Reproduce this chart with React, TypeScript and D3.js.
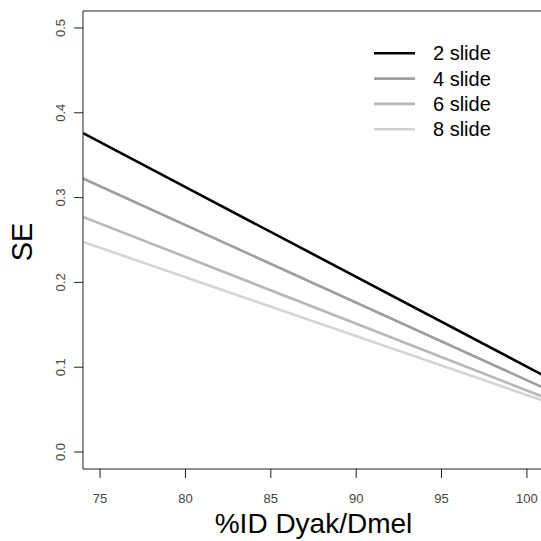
import React from "react";
import * as d3 from "d3";

const xValues = [74, 101];
const se2 = [0.376, 0.09];
const se4 = [0.3225, 0.0755];
const se6 = [0.2773, 0.0647];
const se8 = [0.2478, 0.0602];
const seriesNames = ["2 slide", "4 slide", "6 slide", "8 slide"];
const seriesColors = ["#000000", "#9e9e9e", "#b8b8b8", "#d4d4d4"];
const xTicks = [75, 80, 85, 90, 95, 100];
const yTicks = [0, 0.1, 0.2, 0.3, 0.4, 0.5];

const W = 541;
const H = 541;
const left = 83;
const right = 544;
const top = 11;
const bottom = 469;
const font = "'Liberation Sans', Arial, sans-serif";

export default function App() {
  React.useEffect(() => {
    document.body.style.margin = "0";
  }, []);
  const x = d3.scaleLinear().domain([74, 101]).range([left, right]);
  const y = d3.scaleLinear().domain([-0.02, 0.52]).range([bottom, top]);
  const series = [se2, se4, se6, se8];
  const line = d3
    .line<number>()
    .x((_, i) => x(xValues[i]))
    .y((d) => y(d));
  return (
    <svg width={W} height={H} style={{ display: "block", position: "absolute", left: 0, top: 0, background: "#fff" }}>
      <defs>
        <clipPath id="plot">
          <rect x={left} y={top} width={right - left} height={bottom - top} />
        </clipPath>
      </defs>
      <g clipPath="url(#plot)">
        {series.map((s, k) => (
          <path key={k} d={line(s) || ""} fill="none" stroke={seriesColors[k]} strokeWidth={2.6} />
        ))}
      </g>
      <rect x={left} y={top} width={right - left} height={bottom - top} fill="none" stroke="#222" strokeWidth={1} />
      {xTicks.map((t) => (
        <g key={t}>
          <line x1={x(t)} x2={x(t)} y1={bottom} y2={bottom + 9} stroke="#222" />
          <text x={x(t)} y={503} textAnchor="middle" fontFamily={font} fontSize={13} fill="#444">
            {t}
          </text>
        </g>
      ))}
      {yTicks.map((t) => (
        <g key={t}>
          <line x1={left - 9} x2={left} y1={y(t)} y2={y(t)} stroke="#222" />
          <text
            transform={`translate(65,${y(t)}) rotate(-90)`}
            textAnchor="middle"
            fontFamily={font}
            fontSize={13}
            fill="#444"
          >
            {t.toFixed(1)}
          </text>
        </g>
      ))}
      <text x={(left + right) / 2} y={533} textAnchor="middle" fontFamily={font} fontSize={28} fill="#000">
        %ID Dyak/Dmel
      </text>
      <text transform={`translate(32,242) rotate(-90)`} textAnchor="middle" fontFamily={font} fontSize={29} fill="#000">
        SE
      </text>
      {seriesNames.map((n, k) => {
        const ly = 53.3 + k * 25.3;
        return (
          <g key={n}>
            <line x1={374} x2={415} y1={ly} y2={ly} stroke={seriesColors[k]} strokeWidth={2.6} />
            <text x={433} y={ly + 7} fontFamily={font} fontSize={20} fill="#000">
              {n}
            </text>
          </g>
        );
      })}
    </svg>
  );
}
